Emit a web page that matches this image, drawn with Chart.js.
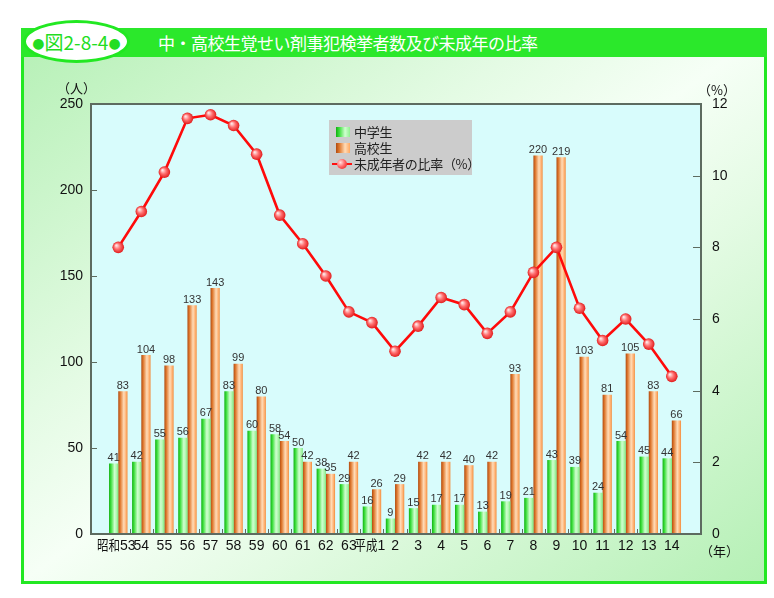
<!DOCTYPE html>
<html>
<head>
<meta charset="utf-8">
<script src="https://cdn.jsdelivr.net/npm/chart.js@4.4.1/dist/chart.umd.min.js"></script>
<style>
  body { margin: 0; width: 774px; height: 598px; background: #fff; position: relative; overflow: hidden;
         font-family: "Noto Sans CJK JP", "Noto Sans", sans-serif; }
  #panel { position: absolute; left: 21px; top: 28px; width: 740px; height: 550px; border: 3px solid #22e822;
           background: linear-gradient(to bottom right, #b5f0b5 0%, #e4fbe4 35%, #f6fff6 50%, #e4fbe4 65%, #b5f0b5 100%); }
  #titlebar { position: absolute; left: 21px; top: 28px; width: 746px; height: 29px; background: #2be82b; }
  #oval { position: absolute; left: 23px; top: 20px; width: 101px; height: 37px; border: 3px solid #22e822;
          border-radius: 50%; background: #fff; color: #22dd22; font-size: 19px; line-height: 37px;
          text-align: center; white-space: nowrap; }
  #oval .dot { font-family: "DejaVu Sans", sans-serif; font-size: 14px; vertical-align: 2px; }
  #title { position: absolute; left: 158px; top: 30px; height: 25px; line-height: 25px; color: #fff; font-size: 17px;
           letter-spacing: -0.5px; white-space: nowrap; }
  canvas { position: absolute; left: 0; top: 0; }
  .unit { position: absolute; font-size: 13px; color: #111; white-space: nowrap; }
  #legend { position: absolute; left: 329px; top: 120px; width: 143px; height: 55px; background: #cccccc; }
  .li { position: absolute; left: 25px; font-size: 13px; color: #222; white-space: nowrap; line-height: 16px; letter-spacing: -0.3px; }
  .sw { position: absolute; left: 7px; width: 14px; height: 10px; }
</style>
</head>
<body>
<div id="panel"></div>
<div id="titlebar"></div>
<div id="oval"><span class="dot">●</span>図2-8-4<span class="dot">●</span></div>
<div id="title">中・高校生覚せい剤事犯検挙者数及び未成年の比率</div>
<canvas id="chart" width="774" height="598"></canvas>
<div class="unit" style="left:57px;top:78px">（人）</div>
<div class="unit" style="left:698px;top:80px">（%）</div>
<div class="unit" style="left:700px;top:541px">（年）</div>
<div id="legend">
  <div class="sw" style="top:7px;background:linear-gradient(to right,#10b010,#40e040 25%,#d0ffd0 65%,#90f090)"></div>
  <div class="li" style="top:4px">中学生</div>
  <div class="sw" style="top:23px;background:linear-gradient(to right,#b04a10,#e07a30 25%,#ffdcb8 65%,#ffa860)"></div>
  <div class="li" style="top:20px">高校生</div>
  <div style="position:absolute;left:3px;top:43px;width:20px;height:2px;background:#ff1010"></div>
  <div style="position:absolute;left:8px;top:39px;width:10px;height:10px;border-radius:50%;background:radial-gradient(circle at 35% 35%,#ffe0e0,#ff6060 50%,#e01818)"></div>
  <div class="li" style="top:36px">未成年者の比率（%）</div>
</div>
<script>
const categories = ["昭和53", "54", "55", "56", "57", "58", "59", "60", "61", "62", "63", "平成1",
  "2", "3", "4", "5", "6", "7", "8", "9", "10", "11", "12", "13", "14"];
const juniorHigh = [41, 42, 55, 56, 67, 83, 60, 58, 50, 38, 29, 16, 9, 15, 17, 17, 13, 19, 21, 43, 39, 24, 54, 45, 44];
const seniorHigh = [83, 104, 98, 133, 143, 99, 80, 54, 42, 35, 42, 26, 29, 42, 42, 40, 42, 93, 220, 219, 103, 81, 105, 83, 66];
const minorRatio = [8.0, 9.0, 10.1, 11.6, 11.7, 11.4, 10.6, 8.9, 8.1, 7.2, 6.2, 5.9, 5.1, 5.8, 6.6, 6.4, 5.6, 6.2, 7.3, 8.0, 6.3, 5.4, 6.0, 5.3, 4.4];

const toPoints = arr => arr.map((v, i) => ({ x: i, y: v }));

// horizontal gradient across one bar of the pair
function barFill(context, side) {
  const chart = context.chart;
  const xs = chart.scales.x;
  if (!xs || !chart.chartArea) return side ? '#f09040' : '#40e040';
  const c = xs.getPixelForValue(context.dataIndex);
  const w = Math.abs(xs.getPixelForValue(1) - xs.getPixelForValue(0)) * 0.8 / 2;
  const x0 = side ? c : c - w;
  const g = chart.ctx.createLinearGradient(x0, 0, x0 + w, 0);
  if (side) {
    g.addColorStop(0, '#b04a10'); g.addColorStop(0.22, '#e07a30');
    g.addColorStop(0.6, '#ffdcb8'); g.addColorStop(0.85, '#ffb070'); g.addColorStop(1, '#f08a3a');
  } else {
    g.addColorStop(0, '#10b010'); g.addColorStop(0.22, '#40e040');
    g.addColorStop(0.6, '#d0ffd0'); g.addColorStop(0.85, '#a8f4a8'); g.addColorStop(1, '#70e870');
  }
  return g;
}

function ballFill(context) {
  const chart = context.chart;
  const xs = chart.scales.x, ys = chart.scales.y1;
  if (!xs || !ys || !chart.chartArea) return '#ff5050';
  const px = xs.getPixelForValue(context.dataIndex);
  const py = ys.getPixelForValue(minorRatio[context.dataIndex]);
  const g = chart.ctx.createRadialGradient(px - 2, py - 2, 0.5, px, py, 6);
  g.addColorStop(0, '#ffe4e4'); g.addColorStop(0.45, '#ff7070'); g.addColorStop(1, '#e01818');
  return g;
}

const framePlugin = {
  id: 'frame',
  beforeDatasetsDraw(chart) {
    const { ctx, chartArea: a } = chart;
    ctx.save();
    ctx.fillStyle = '#d8fcfc';
    ctx.fillRect(a.left, a.top, a.right - a.left, a.bottom - a.top);
    ctx.restore();
  },
  afterDatasetsDraw(chart) {
    const { ctx, chartArea: a, scales } = chart;
    ctx.save();
    ctx.strokeStyle = '#5d6b60';
    ctx.lineWidth = 2;
    ctx.strokeRect(a.left, a.top, a.right - a.left, a.bottom - a.top);
    ctx.lineWidth = 1;
    ctx.beginPath();
    scales.y.ticks.forEach(t => {
      const y = Math.round(scales.y.getPixelForValue(t.value)) + 0.5;
      ctx.moveTo(a.left, y); ctx.lineTo(a.left + 6, y);
    });
    scales.y1.ticks.forEach(t => {
      const y = Math.round(scales.y1.getPixelForValue(t.value)) + 0.5;
      ctx.moveTo(a.right - 8, y); ctx.lineTo(a.right, y);
    });
    for (let i = 0; i < categories.length - 1; i++) {
      const x = Math.round(scales.x.getPixelForValue(i + 0.5)) + 0.5;
      ctx.moveTo(x, a.bottom); ctx.lineTo(x, a.bottom - 5);
    }
    ctx.stroke();

    // year labels; the era names are drawn narrower like the original
    ctx.fillStyle = '#111';
    ctx.font = '14px "Liberation Sans", Arial, "Noto Sans CJK JP", sans-serif';
    ctx.textBaseline = 'middle';
    const ly = a.bottom + 12;
    categories.forEach((c, i) => {
      const x = scales.x.getPixelForValue(i);
      const m = c.match(/^(\D*)(\d+)$/);
      if (!m[1]) {
        ctx.textAlign = 'center';
        ctx.fillText(c, x, ly);
        return;
      }
      const era = m[1], num = m[2];
      const ew = ctx.measureText(era).width * 0.82;
      const nw = ctx.measureText(num).width;
      const left = x - 2 - (ew + nw) / 2;
      ctx.textAlign = 'left';
      ctx.fillText(era, left, ly, ew);
      ctx.fillText(num, left + ew, ly);
    });

    // value labels above the bars
    ctx.fillStyle = '#333';
    ctx.font = '11px "Liberation Sans Narrow", "Liberation Sans", Arial, sans-serif';
    ctx.textAlign = 'center';
    ctx.textBaseline = 'bottom';
    [0, 1].forEach(di => {
      const meta = chart.getDatasetMeta(di);
      const vals = chart.data.datasets[di].data;
      meta.data.forEach((el, i) => ctx.fillText(String(vals[i].y), el.x, el.y));
    });
    ctx.restore();
  }
};

const tickFont = { family: '"Liberation Sans", Arial, "Noto Sans CJK JP", sans-serif', size: 14 };

new Chart(document.getElementById('chart'), {
  type: 'bar',
  data: {
    datasets: [
      { label: '中学生', data: toPoints(juniorHigh), yAxisID: 'y', order: 1,
        backgroundColor: c => barFill(c, 0), borderWidth: 0, barPercentage: 1, categoryPercentage: 0.8 },
      { label: '高校生', data: toPoints(seniorHigh), yAxisID: 'y', order: 1,
        backgroundColor: c => barFill(c, 1), borderWidth: 0, barPercentage: 1, categoryPercentage: 0.8 },
      { type: 'line', label: '未成年者の比率（%）', data: toPoints(minorRatio), yAxisID: 'y1', order: 0,
        borderColor: '#ff0a0a', borderWidth: 2.6, tension: 0, fill: false,
        pointRadius: 5.8, pointBorderWidth: 0, pointBackgroundColor: ballFill }
    ]
  },
  plugins: [framePlugin],
  options: {
    responsive: false,
    animation: false,
    layout: { padding: { top: 104, left: 0, right: 0, bottom: 0 } },
    plugins: { legend: { display: false }, tooltip: { enabled: false } },
    scales: {
      x: {
        type: 'linear',
        min: -0.653,
        max: 24.737,
        afterBuildTicks: s => { s.ticks = categories.map((c, i) => ({ value: i })); },
        afterFit: s => { s.height = 64; },
        grid: { display: false, drawTicks: false },
        border: { display: false },
        ticks: { display: false }
      },
      y: {
        position: 'left',
        min: 0, max: 250,
        afterFit: s => { s.width = 91; },
        grid: { display: false, drawTicks: false },
        border: { display: false },
        ticks: { stepSize: 50, padding: 8, color: '#111', font: tickFont }
      },
      y1: {
        position: 'right',
        min: 0, max: 12,
        afterFit: s => { s.width = 73; },
        grid: { display: false, drawTicks: false },
        border: { display: false },
        ticks: { stepSize: 2, padding: 11, color: '#111', font: tickFont }
      }
    }
  }
});
</script>
</body>
</html>
